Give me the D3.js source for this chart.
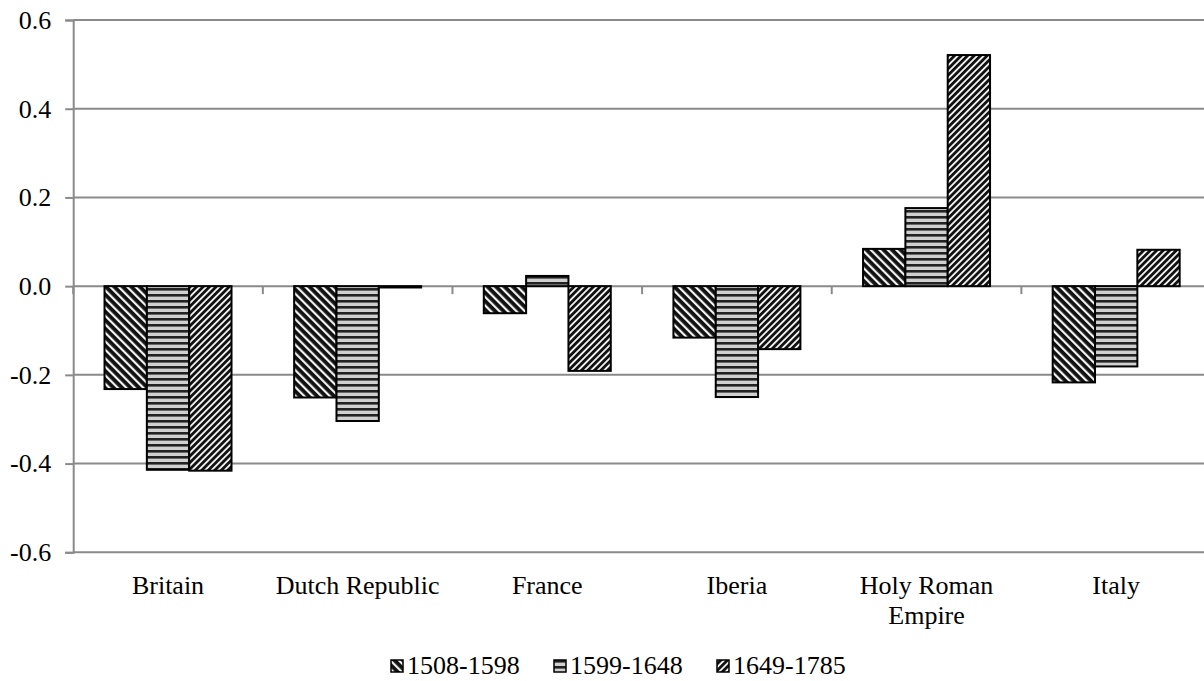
<!DOCTYPE html>
<html>
<head>
<meta charset="utf-8">
<script src="https://cdn.jsdelivr.net/npm/d3@7"></script>
</head>
<body style="margin:0">
<svg id="chart" width="1204" height="681"></svg>
<script>

/*Data*/
var categories = ["Britain", "Dutch Republic", "France", "Iberia", "Holy Roman Empire", "Italy"];
var seriesNames = ["1508-1598", "1599-1648", "1649-1785"];
var s1508 = [-0.232, -0.251, -0.061, -0.116, 0.084, -0.217];
var s1599 = [-0.414, -0.304, 0.023, -0.250, 0.176, -0.181];
var s1649 = [-0.416, -0.003, -0.191, -0.142, 0.521, 0.082];
var yTicks = [-0.6, -0.4, -0.2, 0.0, 0.2, 0.4, 0.6];

var seriesValues = [s1508, s1599, s1649];

/*Dims*/
var plot = {left: 73.2, right: 1211, top: 20, bottom: 552.3};
var fontSize = 26;
var fontFamily = "'Liberation Serif'";
var gridColour = "#8a8a8a";

var svg = d3.select("#chart");

//Patterns
var defs = svg.append("defs");

function stripePattern(id, angle, period, dark, darkColour, lightColour) {
    var p = defs.append("pattern")
        .attr("id", id)
        .attr("patternUnits", "userSpaceOnUse")
        .attr("width", period)
        .attr("height", period)
        .attr("patternTransform", "rotate(" + angle + ")");
    p.append("rect")
        .attr("width", period).attr("height", period)
        .attr("fill", lightColour);
    p.append("rect")
        .attr("width", period).attr("height", dark)
        .attr("fill", darkColour);
}

stripePattern("pat0", 45, 6, 3.8, "#111", "#f4f4f4");   // "\" wide
stripePattern("pat1", 0, 6, 2.6, "#222", "#d0d0d0");    // horizontal
stripePattern("pat2", -45, 4.6, 2.8, "#111", "#f4f4f4"); // "/"

//Text helper
function label(sel) {
    return sel.style("font-family", fontFamily)
        .attr("font-size", fontSize)
        .attr("fill", "#000");
}

//Scales
var xScale = d3.scaleBand()
    .domain(categories)
    .range([plot.left, plot.right]);

var bandW = xScale.bandwidth();

var xInner = d3.scaleBand()
    .domain(seriesNames)
    .range([0, bandW])
    .paddingInner(0)
    .paddingOuter(0.74);

var yScale = d3.scaleLinear()
    .domain([-0.6, 0.6])
    .range([plot.bottom, plot.top]);

//Gridlines
svg.append("g")
    .selectAll("line")
    .data(yTicks)
    .enter()
    .append("line")
    .attr("x1", plot.left)
    .attr("x2", plot.right)
    .attr("y1", function(d){ return yScale(d); })
    .attr("y2", function(d){ return yScale(d); })
    .attr("stroke", gridColour)
    .attr("stroke-width", 2);

//Y axis
var yAxis = d3.axisLeft(yScale)
    .tickValues(yTicks)
    .tickSize(8)
    .tickPadding(14)
    .tickFormat(function(d){ return d.toFixed(1); });

var gy = svg.append("g")
    .attr("transform", "translate(" + plot.left + ",0)")
    .call(yAxis)
    .attr("font-family", null)
    .attr("font-size", null);
gy.select(".domain").attr("stroke", gridColour).attr("stroke-width", 2);
gy.selectAll(".tick line").attr("stroke", gridColour).attr("stroke-width", 2);
gy.selectAll(".tick text").call(label);

//Category ticks on the zero line (at band boundaries)
var boundaries = categories.map(function(c){ return xScale(c); }).concat([plot.right]);
svg.append("g")
    .selectAll("line")
    .data(boundaries)
    .enter()
    .append("line")
    .attr("x1", function(d){ return d; })
    .attr("x2", function(d){ return d; })
    .attr("y1", yScale(0))
    .attr("y2", yScale(0) + 8)
    .attr("stroke", gridColour)
    .attr("stroke-width", 2);

//Bars
var bars = [];
seriesValues.forEach(function(vals, si){
    vals.forEach(function(v, ci){
        bars.push({series: si, cat: categories[ci], value: v});
    });
});

svg.append("g")
    .selectAll("rect")
    .data(bars)
    .enter()
    .append("rect")
    .attr("x", function(d){ return xScale(d.cat) + xInner(seriesNames[d.series]); })
    .attr("width", xInner.bandwidth())
    .attr("y", function(d){ return yScale(Math.max(0, d.value)); })
    .attr("height", function(d){ return Math.abs(yScale(d.value) - yScale(0)); })
    .attr("fill", function(d){ return "url(#pat" + d.series + ")"; })
    .attr("stroke", "#000")
    .attr("stroke-width", 2);

//X axis labels (bottom), long labels split in two lines
var xAxis = d3.axisBottom(xScale).tickSize(0).tickPadding(0).tickFormat(function(){ return ""; });
var gx = svg.append("g")
    .attr("transform", "translate(0," + (plot.bottom + 23) + ")")
    .call(xAxis)
    .attr("font-family", null)
    .attr("font-size", null);
gx.select(".domain").remove();
gx.selectAll(".tick text").each(function(d){
    var text = d3.select(this).call(label);
    var lines = [d];
    if (d.length > 15) {
        var w = d.split(" ");
        lines = [w.slice(0, 2).join(" "), w.slice(2).join(" ")];
    }
    lines.forEach(function(l, i){
        text.append("tspan").attr("x", 0).attr("dy", i == 0 ? "0.71em" : "1.15em").text(l);
    });
});

//Legend
var legendX = 390, legendY = 674, itemStep = 163;
var legend = svg.append("g");
seriesNames.forEach(function(name, i){
    var x0 = legendX + i * itemStep;
    legend.append("rect")
        .attr("x", x0 + 1)
        .attr("y", legendY - 14)
        .attr("width", 12)
        .attr("height", 12)
        .attr("fill", "url(#pat" + i + ")")
        .attr("stroke", "#000")
        .attr("stroke-width", 1.5);
    legend.append("text")
        .attr("x", x0 + 17)
        .attr("y", legendY)
        .call(label)
        .text(name);
});

</script>
</body>
</html>
